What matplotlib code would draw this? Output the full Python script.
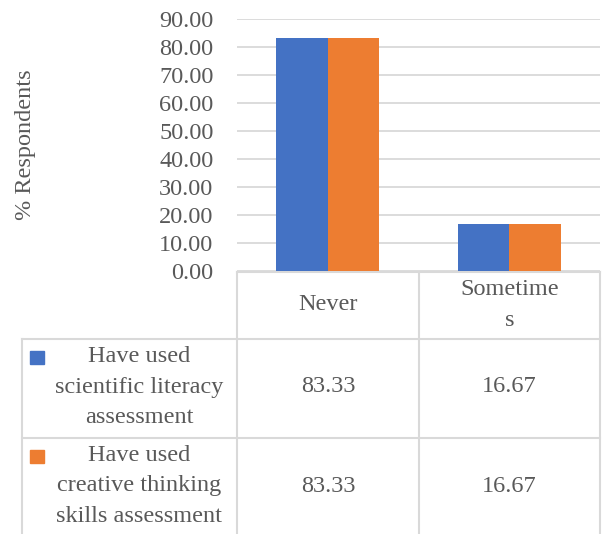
import matplotlib.pyplot as plt
import numpy as np
from matplotlib.patches import Rectangle

categories = ["Never", "Sometime\ns"]
series_names = ["Have used\nscientific literacy\nassessment",
                "Have used\ncreative thinking\nskills assessment"]
literacy = [83.33, 16.67]
creative = [83.33, 16.67]
values = [literacy, creative]
colors = ["#4472C4", "#ED7D31"]
yticks = np.arange(0, 100, 10)

W, H = 602, 534
TXT = "#595959"
GRID = "#D9D9D9"
FONT = "Liberation Serif"
FS = 17.5

fig = plt.figure(figsize=(W / 100, H / 100), dpi=100)

# overlay axes in pixel coordinates for the data table
tab = fig.add_axes([0, 0, 1, 1])
tab.set_xlim(0, W)
tab.set_ylim(H, 0)
tab.axis("off")

# bar axes
x0, x1, ytop, ybot = 237, 600, 19, 271
ax = fig.add_axes([x0 / W, 1 - ybot / H, (x1 - x0) / W, (ybot - ytop) / H])
x = np.arange(len(categories))
bw = 0.284
for i, (vals, c) in enumerate(zip(values, colors)):
    ax.bar(x + (i - 0.5) * bw, vals, bw, color=c, zorder=3)
ax.set_xlim(-0.5, len(categories) - 0.5)
ax.set_ylim(0, 90)
ax.set_yticks(yticks)
ax.set_yticklabels([f"{v:.2f}" for v in yticks], fontfamily=FONT, fontsize=FS, color=TXT)
ax.tick_params(axis="y", length=0, pad=17)
ax.set_xticks([])
ax.grid(axis="y", color=GRID, linewidth=1.3, zorder=0)
for s in ax.spines.values():
    s.set_visible(False)

tab.text(26, 145, "% Respondents", rotation=90, ha="center", va="center",
         fontfamily=FONT, fontsize=FS, color=TXT)

# table grid
cols = [237, 419, 600]
lw = 1.5
for cx in cols:
    tab.plot([cx, cx], [272, H], color=GRID, lw=lw)
tab.plot([22, 22], [339, H], color=GRID, lw=lw)
tab.plot([237, 600], [272, 272], color=GRID, lw=lw)
for ry in [339, 438]:
    tab.plot([22, 600], [ry, ry], color=GRID, lw=lw)

centers = [(cols[j] + cols[j + 1]) / 2 for j in range(len(categories))]
for cx, cat in zip(centers, categories):
    tab.text(cx, 305, cat, ha="center", va="center", fontfamily=FONT, fontsize=FS,
             color=TXT, linespacing=1.62, multialignment="center")

row_mid = [387, 486]
for ry, name, vals, c in zip(row_mid, series_names, values, colors):
    tab.add_patch(Rectangle((30, ry - 36), 14, 13, color=c))
    tab.text(139, ry, name, ha="center", va="center", fontfamily=FONT, fontsize=FS,
             color=TXT, linespacing=1.62, multialignment="center")
    for cx, v in zip(centers, vals):
        tab.text(cx, ry, f"{v:.2f}", ha="center", va="center", fontfamily=FONT,
                 fontsize=FS, color=TXT)

fig.savefig("out.png", dpi=100)
